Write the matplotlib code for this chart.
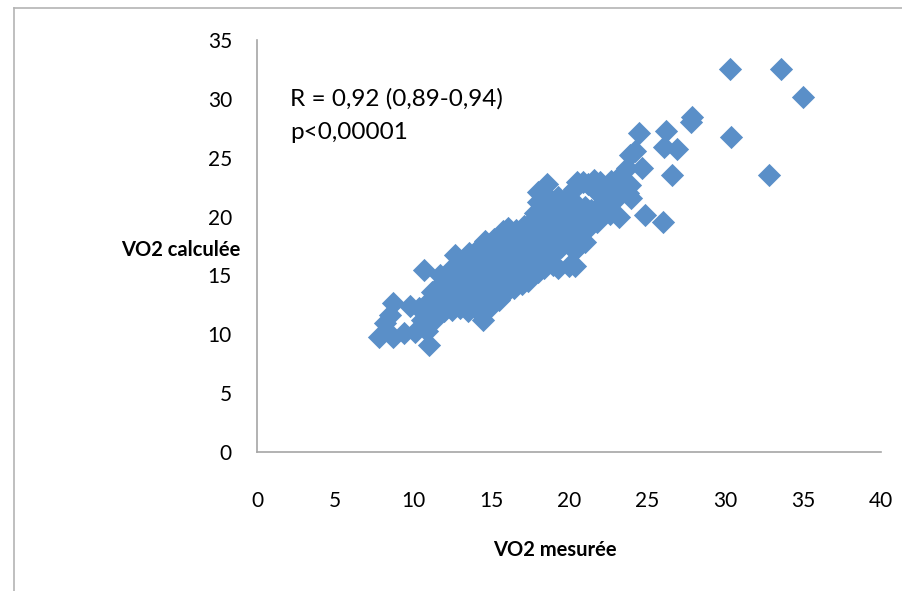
import matplotlib
matplotlib.use("Agg")
import matplotlib.pyplot as plt
from matplotlib.lines import Line2D

# ---- data ----
vo2_mesuree = [
    7.8, 8.2, 8.7, 8.7, 8.5, 9.4, 9.8, 10.1, 10.7, 10.6, 10.4, 10.9, 11.0, 11.1, 11.2, 11.0,
    11.5, 11.6, 11.4, 11.7, 11.7, 12.0, 12.1, 11.9, 12.2, 12.3,
    12.5, 12.6, 12.4, 12.7, 12.6, 12.7, 13.0, 13.1, 12.9, 13.2, 13.0, 13.3,
    13.5, 13.6, 13.4, 13.7, 13.5, 13.8, 13.6, 14.0, 14.1, 13.9, 14.2, 14.0, 14.3, 14.1,
    14.5, 14.4, 14.6, 14.5, 14.7, 14.4, 14.6, 14.8, 14.6, 15.0, 15.1, 14.9, 15.2, 15.0, 15.3, 15.1, 15.2,
    15.5, 15.6, 15.4, 15.7, 15.5, 15.8, 15.6, 15.8, 16.0, 16.1, 15.9, 16.2, 16.0, 16.3, 16.1,
    16.5, 16.6, 16.4, 16.7, 16.5, 16.8, 16.6, 17.0, 17.1, 16.9, 17.2, 17.0, 17.3, 17.1,
    17.4, 17.6, 17.5, 17.7, 17.4, 17.8, 17.6, 17.8, 18.0, 18.1, 17.9, 18.2, 18.0, 18.3, 18.0, 18.0,
    18.4, 18.6, 18.5, 18.7, 18.4, 18.6, 18.5, 18.7, 18.6, 19.0, 19.1, 18.9, 19.2, 19.0, 19.2, 19.3,
    19.3, 19.5, 19.6, 19.4, 19.7, 19.5, 19.9, 20.0, 20.3, 20.1, 20.0, 20.2, 20.0, 20.3,
    20.4, 20.5, 20.7, 20.6, 20.8, 20.5, 20.5, 20.9, 21.0, 21.1, 21.2, 21.0, 21.4, 21.2,
    21.6, 21.8, 21.7, 22.0, 22.3, 22.0, 22.2,
    22.8, 22.6, 23.0, 22.7, 23.2, 23.2, 23.4,
    23.7, 23.9, 23.9, 23.8, 24.2, 24.0,
    24.5, 24.7, 24.9, 26.0, 26.2, 26.1, 26.9, 26.6, 27.8, 27.9, 30.3, 33.6, 35.0, 30.4, 32.8,
]
vo2_calculee = [
    9.8, 11.0, 9.8, 12.7, 11.6, 10.1, 12.4, 10.2, 15.5, 11.2, 12.2, 10.3, 9.1, 11.6, 13.6, 12.8,
    11.4, 12.3, 13.0, 14.2, 15.0, 12.0, 12.9, 13.6, 14.4, 15.4,
    12.1, 13.0, 13.8, 14.6, 15.5, 16.7, 12.2, 13.1, 14.0, 14.8, 15.6, 16.4,
    12.0, 12.9, 13.6, 14.5, 15.3, 16.1, 16.9, 12.2, 13.1, 13.9, 14.7, 15.5, 16.3, 17.2,
    11.2, 12.0, 12.8, 13.7, 14.5, 15.3, 16.2, 17.0, 17.9, 12.4, 13.2, 14.0, 14.9, 15.8, 16.6, 17.4, 18.1,
    12.9, 13.7, 14.5, 15.3, 16.1, 16.9, 17.7, 18.8, 13.7, 14.6, 15.5, 16.3, 17.2, 18.0, 19.0,
    13.9, 14.8, 15.6, 16.4, 17.3, 18.1, 18.9, 14.3, 15.2, 16.1, 16.9, 17.7, 18.5, 19.2,
    14.5, 15.4, 16.3, 17.1, 18.0, 18.8, 19.6, 20.3, 15.3, 16.2, 17.0, 17.9, 18.7, 19.5, 21.2, 22.1,
    15.6, 16.4, 17.3, 18.1, 19.0, 19.9, 20.8, 21.6, 22.8, 15.9, 17.0, 17.9, 18.8, 19.7, 20.6, 21.7,
    15.6, 17.4, 18.3, 19.2, 20.1, 21.0, 21.7, 15.8, 17.2, 18.0, 18.9, 19.8, 20.6, 22.3,
    15.8, 17.3, 18.4, 19.3, 20.2, 21.0, 22.9, 22.9, 17.8, 18.9, 20.0, 20.8, 20.6, 22.8,
    23.1, 19.5, 22.2, 22.9, 22.3, 20.3, 21.2,
    21.2, 20.2, 22.0, 23.0, 20.0, 23.4, 22.4,
    24.1, 25.2, 22.7, 22.0, 25.6, 21.6,
    27.1, 24.1, 20.1, 19.5, 27.3, 25.9, 25.7, 23.5, 28.0, 28.5, 32.5, 32.5, 30.2, 26.8, 23.5,
]
x_ticks = [0, 5, 10, 15, 20, 25, 30, 35, 40]
y_ticks = [0, 5, 10, 15, 20, 25, 30, 35]
x_label = "VO2 mesurée"
y_label = "VO2 calculée"
annot_lines = ["R = 0,92 (0,89-0,94)", "p<0,00001"]

FONT = ["Lato", "DejaVu Sans"]
plt.rcParams["font.family"] = FONT
BLUE = "#5A8FC8"
GRAY = "#A6A6A6"

fig = plt.figure(figsize=(9.02, 5.91), dpi=100)
fig.patch.set_facecolor("white")
W, H = 902, 591
L, R, T, B = 257, 881, 40, 452
ax = fig.add_axes([L / W, 1 - B / H, (R - L) / W, (B - T) / H])

ax.scatter(vo2_mesuree, vo2_calculee, marker="D", s=140, color=BLUE,
           linewidths=0, zorder=3)

ax.set_xlim(0, 40)
ax.set_ylim(0, 35)
ax.set_xticks(x_ticks)
ax.set_yticks(y_ticks)
ax.tick_params(axis="both", length=0, labelsize=15, colors="black")
ax.tick_params(axis="x", pad=28)
ax.tick_params(axis="y", pad=18)
for side in ("top", "right"):
    ax.spines[side].set_visible(False)
for side in ("left", "bottom"):
    ax.spines[side].set_color(GRAY)
    ax.spines[side].set_linewidth(1.2)

ax.set_xlabel(x_label, fontsize=14.5, fontweight="bold", va="center")
ax.xaxis.set_label_coords((555 - L) / (R - L), -(550 - B) / (B - T))
ax.set_ylabel(y_label, fontsize=14.5, fontweight="bold", rotation=0,
              ha="right", va="center")
ax.yaxis.set_label_coords((240 - L) / (R - L), (B - 250) / (B - T))

ax.text(2.1, 30.0, annot_lines[0], fontsize=17.5, ha="left", va="center")
ax.text(2.1, 27.1, annot_lines[1], fontsize=17.5, ha="left", va="center")

# outer frame (top and left edges only)
fx, fy = 14 / W, 1 - 8 / H
fig.add_artist(Line2D([fx, 1], [fy, fy], transform=fig.transFigure, color="#B4B4B4", lw=1.2))
fig.add_artist(Line2D([fx, fx], [0, fy], transform=fig.transFigure, color="#B4B4B4", lw=1.2))

fig.savefig("out.png", dpi=100, facecolor="white")
